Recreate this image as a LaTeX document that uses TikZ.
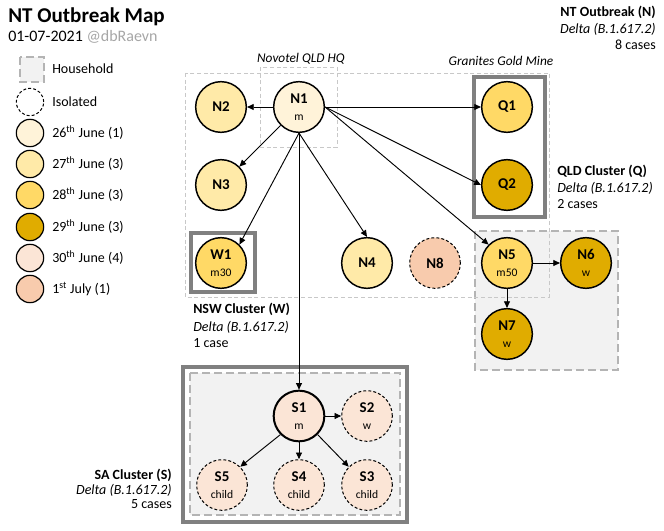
\documentclass[tikz,border=0pt]{standalone}
\usepackage{fontspec}
\setmainfont{Carlito}
\usetikzlibrary{arrows.meta}
\definecolor{cA}{HTML}{FFF3D9}
\definecolor{cB}{HTML}{FFEAA8}
\definecolor{cC}{HTML}{FFD966}
\definecolor{cD}{HTML}{E0AC00}
\definecolor{cE}{HTML}{FBE5D6}
\definecolor{cF}{HTML}{F8CBAD}
\definecolor{boxgray}{HTML}{808080}
\definecolor{hhgray}{HTML}{B4B4B4}
\definecolor{hhfill}{HTML}{F2F2F2}
\definecolor{ntgray}{HTML}{C8C8C8}
\definecolor{handlegray}{HTML}{A6A6A6}
\newcommand{\subl}[1]{{\mdseries\fontsize{8.7}{10}\selectfont #1}}
\tikzset{
 case/.style={circle,draw=black,line width=1.1pt,minimum size=38pt,inner sep=0pt,align=center,font=\bfseries\fontsize{11.2}{12.5}\selectfont},
 isocase/.style={case,dash pattern=on 2.2pt off 1.6pt,line width=0.75pt},
 legc/.style={circle,draw=black,line width=0.9pt,minimum size=20.5pt,inner sep=0pt},
 clusterbox/.style={draw=boxgray,line width=2.6pt},
 household/.style={fill=hhfill,draw=hhgray,line width=2.2pt,dash pattern=on 6pt off 3pt},
 ntregion/.style={draw=ntgray,line width=0.6pt,dash pattern=on 3pt off 2pt},
 link/.style={-{Triangle[length=5pt,width=4.5pt]},line width=0.7pt},
 txt/.style={inner sep=0pt,font=\fontsize{10.5}{12}\selectfont},
 itxt/.style={inner sep=0pt,font=\itshape\fontsize{10}{12}\selectfont},
}
\begin{document}
\begin{tikzpicture}[x=0.75pt,y=-0.75pt]
\path[use as bounding box] (0,0) rectangle (664,531);
% title
\node[anchor=base west,inner sep=0pt,font=\bfseries\fontsize{15.8}{18}\selectfont] (title) at (8,23) {NT Outbreak Map};
\node[anchor=base west,inner sep=0pt,font=\fontsize{12}{14}\selectfont] (subtitle) at (8,42) {01-07-2021 \textcolor{handlegray}{@dbRaevn}};
% legend
\draw[household] (20,57) rectangle (44,82);
\node[txt,anchor=base west] (lhh) at (52,73.5) {Household};
\node[legc,dash pattern=on 2.2pt off 1.6pt,line width=0.75pt] (liso) at (30,102) {};
\node[txt,anchor=base west] (lisot) at (52,106.5) {Isolated};
\node[legc,fill=cA] (l1) at (30,133) {};
\node[txt,anchor=base west] (l1t) at (52,137.5) {26\textsuperscript{th} June (1)};
\node[legc,fill=cB] (l2) at (30,164) {};
\node[txt,anchor=base west] (l2t) at (52,168.5) {27\textsuperscript{th} June (3)};
\node[legc,fill=cC] (l3) at (30,195) {};
\node[txt,anchor=base west] (l3t) at (52,199.5) {28\textsuperscript{th} June (3)};
\node[legc,fill=cD] (l4) at (30,227) {};
\node[txt,anchor=base west] (l4t) at (52,231.5) {29\textsuperscript{th} June (3)};
\node[legc,fill=cE] (l5) at (30,258) {};
\node[txt,anchor=base west] (l5t) at (52,262.5) {30\textsuperscript{th} June (4)};
\node[legc,fill=cF] (l6) at (30,289) {};
\node[txt,anchor=base west] (l6t) at (52,293.5) {1\textsuperscript{st} July (1)};
% regions
\draw[household] (475,231) rectangle (618,370);
\draw[clusterbox] (183,367) rectangle (407,522);
\draw[household] (190,373) rectangle (400,515);
\draw[ntregion] (185,73) rectangle (549,297);
\draw[ntregion] (260,67) rectangle (337,147);
\draw[clusterbox] (474,77) rectangle (545,217);
\draw[clusterbox] (191,233) rectangle (255,292);
% region labels
\node[itxt,anchor=base] (novotel) at (301,63) {Novotel QLD HQ};
\node[itxt,anchor=base] (granites) at (501,66) {Granites Gold Mine};
\node[txt,anchor=base east,font=\bfseries\fontsize{10.5}{12}\selectfont] (ntA) at (656,16.5) {NT Outbreak (N)};
\node[txt,anchor=base east,font=\itshape\fontsize{10.5}{12}\selectfont] (ntB) at (656,33.5) {Delta (B.1.617.2)};
\node[txt,anchor=base east] (ntC) at (656,50) {8 cases};
\node[txt,anchor=base west,font=\bfseries\fontsize{10.5}{12}\selectfont] (qA) at (557,175.5) {QLD Cluster (Q)};
\node[txt,anchor=base west,font=\itshape\fontsize{10.5}{12}\selectfont] (qB) at (557,192.5) {Delta (B.1.617.2)};
\node[txt,anchor=base west] (qC) at (557,208.5) {2 cases};
\node[txt,anchor=base west,font=\bfseries\fontsize{10.5}{12}\selectfont] (wA) at (193,313.5) {NSW Cluster (W)};
\node[txt,anchor=base west,font=\itshape\fontsize{10.5}{12}\selectfont] (wB) at (193,331) {Delta (B.1.617.2)};
\node[txt,anchor=base west] (wC) at (193,347.5) {1 case};
\node[txt,anchor=base east,font=\bfseries\fontsize{10.5}{12}\selectfont] (sA) at (172,479.5) {SA Cluster (S)};
\node[txt,anchor=base east,font=\itshape\fontsize{10.5}{12}\selectfont] (sB) at (172,494) {Delta (B.1.617.2)};
\node[txt,anchor=base east] (sC) at (172,508.5) {5 cases};
% cases
\node[case,fill=cA] (N1) at (299,107) {N1\\\subl{m}};
\node[case,fill=cB] (N2) at (221,107) {N2};
\node[case,fill=cB] (N3) at (221,185) {N3};
\node[case,fill=cC] (W1) at (221,263) {W1\\\subl{m30}};
\node[case,fill=cB] (N4) at (367,263) {N4};
\node[isocase,fill=cF] (N8) at (435,263) {N8};
\node[case,fill=cC] (N5) at (507,263) {N5\\\subl{m50}};
\node[case,fill=cC] (Q1) at (507,107) {Q1};
\node[case,fill=cD] (Q2) at (507,185) {Q2};
\node[case,fill=cD] (N6) at (586,263) {N6\\\subl{w}};
\node[case,fill=cD] (N7) at (507,334) {N7\\\subl{w}};
\node[case,fill=cE,line width=1.5pt] (S1) at (299,416) {S1\\\subl{m}};
\node[isocase,fill=cE] (S2) at (367,416) {S2\\\subl{w}};
\node[isocase,fill=cE] (S5) at (222,485) {S5\\\subl{child}};
\node[isocase,fill=cE] (S4) at (299,485) {S4\\\subl{child}};
\node[isocase,fill=cE] (S3) at (367,485) {S3\\\subl{child}};
% links
\draw[link] (N1) -- (N2);
\draw[link] (N1.south west) -- (N3.north east);
\draw[link] (N1.south) -- (W1.north east);
\draw[link] (N1.south) -- (S1.north);
\draw[link] (N1.south) -- (N4.north);
\draw[link] (N1.east) -- (Q1.west);
\draw[link] (N1.east) -- (Q2.west);
\draw[link] (N1.east) -- (N5.north west);
\draw[link] (N5.east) -- (N6.west);
\draw[link] (N5.south) -- (N7.north);
\draw[link] (S1.east) -- (S2.west);
\draw[link] (S1.south west) -- (S5.north east);
\draw[link] (S1.south) -- (S4.north);
\draw[link] (S1.south east) -- (S3.north west);
\end{tikzpicture}
\end{document}
